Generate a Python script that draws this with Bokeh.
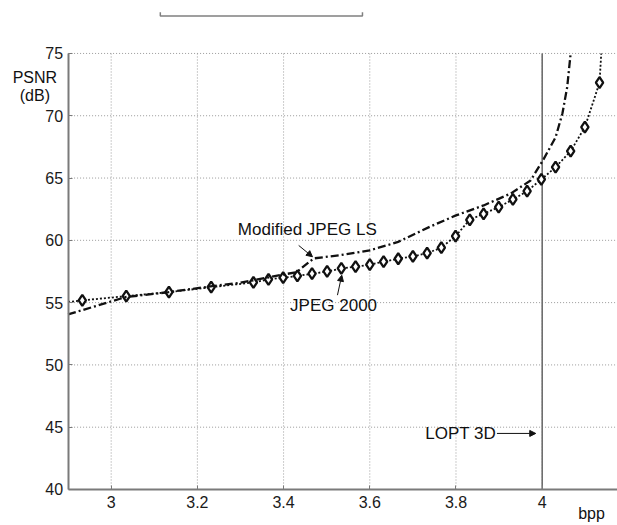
from bokeh.plotting import figure
from bokeh.models import Range1d, FixedTicker, Label, Arrow, NormalHead
from bokeh.embed import file_html
from bokeh.resources import INLINE

# ---- data ----
x_ticks = [3.0, 3.2, 3.4, 3.6, 3.8, 4.0]
x_tick_labels = ["3", "3.2", "3.4", "3.6", "3.8", "4"]
y_ticks = [40, 45, 50, 55, 60, 65, 70, 75]

jpeg2000_bpp = [2.933, 3.035, 3.134, 3.232, 3.330, 3.365, 3.399, 3.432, 3.466, 3.501,
                3.534, 3.567, 3.600, 3.632, 3.666, 3.700, 3.733, 3.766, 3.799, 3.832,
                3.864, 3.899, 3.932, 3.965, 3.998, 4.031, 4.066, 4.099, 4.133]
jpeg2000_psnr = [55.18, 55.52, 55.84, 56.24, 56.62, 56.86, 57.00, 57.14, 57.32, 57.50,
                 57.74, 57.88, 58.05, 58.29, 58.52, 58.71, 58.97, 59.41, 60.34, 61.65,
                 62.13, 62.66, 63.28, 63.95, 64.89, 65.87, 67.16, 69.08, 72.65]
# dotted connecting line runs from the axis up to the top of the plot
jpeg2000_line_bpp = [2.90] + jpeg2000_bpp + [4.137]
jpeg2000_line_psnr = [55.05] + jpeg2000_psnr + [75.0]

jpegls_bpp = [2.90, 3.033, 3.133, 3.23, 3.30, 3.43, 3.47, 3.53, 3.60, 3.664, 3.74,
              3.80, 3.864, 3.927, 3.973, 4.003, 4.031, 4.047, 4.058, 4.066]
jpegls_psnr = [54.05, 55.44, 55.84, 56.30, 56.60, 57.45, 58.55, 58.80, 59.20, 59.85, 61.10,
               62.00, 62.80, 63.76, 64.80, 66.50, 68.26, 70.20, 72.30, 75.0]

lopt_bpp = 4.0

# decorative bracket drawn above the plot in the source image
bracket_x = [3.114, 3.114, 3.583, 3.583]
bracket_y = [78.30, 78.01, 78.01, 78.30]

FONT = "Liberation Sans"
INK = "#111111"
AXIS_GREY = "#7a7a7a"

X0, X1 = 2.7432, 4.1747      # view extents (plot frame fills the canvas)
Y0, Y1 = 37.19, 79.25
XA, YA = 2.9, 40.0            # where the axes sit
YTOP = y_ticks[-1]

p = figure(width=617, height=524, output_backend="svg", toolbar_location=None,
           title=None, x_range=Range1d(X0, X1), y_range=Range1d(Y0, Y1),
           min_border=0)
p.outline_line_color = None
p.background_fill_color = "white"
p.border_fill_color = "white"
p.xgrid.visible = False
p.ygrid.visible = False

# dotted grid limited to the axes box
grid_kw = dict(line_color="#9a9a9a", line_dash="1 2", line_width=1)
p.segment(x0=x_ticks, y0=[YA] * len(x_ticks), x1=x_ticks, y1=[YTOP] * len(x_ticks), **grid_kw)
p.segment(x0=[XA] * (len(y_ticks) - 1), y0=y_ticks[1:], x1=[X1] * (len(y_ticks) - 1),
          y1=y_ticks[1:], **grid_kw)

# axes placed at fixed data locations
p.xaxis.fixed_location = YA
p.yaxis.fixed_location = XA
p.xaxis.bounds = (XA, X1)
p.yaxis.bounds = (YA, YTOP)
p.xaxis.ticker = FixedTicker(ticks=x_ticks)
p.xaxis.major_label_overrides = {t: l for t, l in zip(x_ticks, x_tick_labels)}
p.yaxis.ticker = FixedTicker(ticks=y_ticks)
for ax in (p.xaxis, p.yaxis):
    ax.axis_line_color = AXIS_GREY
    ax.axis_line_width = 2
    ax.major_tick_in = 4
    ax.major_tick_out = 0
    ax.major_tick_line_color = AXIS_GREY
    ax.minor_tick_line_color = None
    ax.major_label_text_font = FONT
    ax.major_label_text_font_size = "16px"
    ax.major_label_text_color = "#1a1a1a"
p.xaxis.major_label_standoff = 7
p.yaxis.major_label_standoff = 5

# LOPT 3D vertical line
p.segment(x0=[lopt_bpp], y0=[YA], x1=[lopt_bpp], y1=[YTOP], line_color="#6e6e6e",
          line_width=1.6)

# bracket
p.line(bracket_x, bracket_y, line_color="#808080", line_width=1.5)

# JPEG 2000 curve
p.line(jpeg2000_line_bpp, jpeg2000_line_psnr, line_color=INK, line_width=1.8,
       line_dash="2 2")
p.scatter(jpeg2000_bpp, jpeg2000_psnr, marker="diamond", size=11, line_color=INK,
          line_width=2.3, fill_color="white")

# Modified JPEG LS curve
p.line(jpegls_bpp, jpegls_psnr, line_color=INK, line_width=2.3, line_dash="8 3 2 3")

# annotations
def lab(x, y, text, align="center", size="17px"):
    p.add_layout(Label(x=x, y=y, text=text, text_font=FONT, text_font_size=size,
                       text_align=align, text_baseline="middle", text_color=INK))

def arrow(xs, ys, xe, ye):
    p.add_layout(Arrow(end=NormalHead(size=6, fill_color=INK, line_color=INK),
                       x_start=xs, y_start=ys, x_end=xe, y_end=ye,
                       line_color=INK, line_width=1))

lab(3.455, 60.87, "Modified JPEG LS")
arrow(3.435, 59.59, 3.467, 58.68)

lab(3.516, 54.8, "JPEG 2000")
arrow(3.525, 55.6, 3.535, 57.2)

lab(3.893, 44.5, "LOPT 3D", align="right")
arrow(3.895, 44.5, 3.985, 44.5)

# axis titles
lab(2.823, 73.1, "PSNR", size="16px")
lab(2.823, 71.6, "(dB)", size="16px")
lab(4.1145, 38.1, "bpp", size="16px")

open("out.html", "w").write(file_html(p, INLINE))
